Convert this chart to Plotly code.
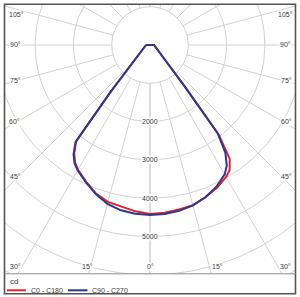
import numpy as np
import plotly.graph_objects as go

# ---------------- data (luminous intensity, cd) ----------------
gamma = [0, 5, 10, 15, 20, 25, 30, 32.5, 35, 37.5, 40, 45, 50, 60, 70, 80, 90]
c0   = [4420, 4395, 4360, 4330, 4230, 4120, 3975, 3870, 3630, 2950, 1400, 575, 370, 212, 153, 122, 104]
c180 = [4410, 4360, 4280, 4240, 4130, 3940, 3760, 3640, 3450, 3170, 1600, 620, 375, 212, 153, 122, 104]
c90  = [4440, 4430, 4396, 4335, 4230, 4090, 3900, 3731, 3430, 2900, 1400, 572, 370, 212, 153, 122, 104]
c270 = [4440, 4420, 4382, 4292, 4140, 3958, 3780, 3665, 3480, 3190, 1600, 620, 378, 214, 153, 122, 104]

radial_ticks = [2000, 3000, 4000, 5000]
grid_circles = [1000, 2000, 3000, 4000, 5000, 6000, 7000]
grid_angles = list(range(0, 181, 15))

# angle labels: text and pixel positions (left edge, bottom edge, right edge)
angle_text = ["105°", "90°", "75°", "60°", "45°", "30°", "15°", "0°", "15°", "30°",
              "45°", "60°", "75°", "90°", "105°"]
angle_px = [(16, 14), (15, 45), (15, 80), (14.5, 121), (15, 177), (15, 266.5), (87, 266.5),
            (150, 266.5), (217, 266.5), (285.5, 266.5), (286, 177), (286, 121), (286, 80),
            (285.5, 45), (285, 14)]

W, H = 300, 297
K = 0.0383          # pixels per cd
CX, CY = 150, 45    # pole position in pixels
BOX = (4, 4, 296, 273.5)  # plot box in pixels (left, top, right, bottom)

GRID = "#d2d2d2"
RED = "#e8202a"
BLUE = "#2b3990"
TXT = "#3a3a3a"
FONT = "Liberation Sans, Arial, sans-serif"


def curve_xy(left, right):
    g = np.radians(gamma)
    l = np.array(left, float)
    r = np.array(right, float)
    xl = -l * np.sin(g)
    yl = -l * np.cos(g)
    xr = r * np.sin(g)
    yr = -r * np.cos(g)
    x = np.concatenate([xl[::-1], xr[1:], xl[-1:]])
    y = np.concatenate([yl[::-1], yr[1:], yl[-1:]])
    return x, y


fig = go.Figure()

# grid circles
gx, gy = [], []
t = np.linspace(0, 2 * np.pi, 361)
for rc in grid_circles:
    gx += list(rc * np.cos(t)) + [None]
    gy += list(rc * np.sin(t)) + [None]
fig.add_trace(go.Scatter(x=gx, y=gy, mode="lines", line=dict(color=GRID, width=1),
                         hoverinfo="skip", showlegend=False))

# radial lines
rx, ry = [], []
for a in grid_angles:
    ar = np.radians(a)
    for s in (-1, 1):
        rx += [s * 1000 * np.sin(ar), s * 9000 * np.sin(ar), None]
        ry += [-1000 * np.cos(ar), -9000 * np.cos(ar), None]
fig.add_trace(go.Scatter(x=rx, y=ry, mode="lines", line=dict(color=GRID, width=1),
                         hoverinfo="skip", showlegend=False))

# curves
x1, y1 = curve_xy(c180, c0)
fig.add_trace(go.Scatter(x=x1, y=y1, mode="lines", name="C0 - C180",
                         line=dict(color=RED, width=2), showlegend=False))
x2, y2 = curve_xy(c270, c90)
fig.add_trace(go.Scatter(x=x2, y=y2, mode="lines", name="C90 - C270",
                         line=dict(color=BLUE, width=2), showlegend=False))

ann = []
for v in radial_ticks:
    ann.append(dict(x=0, y=-v, xref="x", yref="y", text=str(v), showarrow=False,
                    font=dict(size=7, color=TXT, family=FONT), bgcolor="white",
                    borderpad=0, xanchor="center", yanchor="middle"))
for txt, (px, py) in zip(angle_text, angle_px):
    ann.append(dict(x=px / W, y=1 - py / H, xref="paper", yref="paper", text=txt,
                    showarrow=False, font=dict(size=7, color=TXT, family=FONT),
                    bgcolor="white", borderpad=0, xanchor="center", yanchor="middle"))

# legend (manual)
ann.append(dict(x=8 / W, y=1 - 281.5 / H, xref="paper", yref="paper", text="cd",
                showarrow=False, font=dict(size=8, color=TXT, family=FONT),
                xanchor="left", yanchor="middle"))
ann.append(dict(x=28.5 / W, y=1 - 290.5 / H, xref="paper", yref="paper", text="C0 - C180",
                showarrow=False, font=dict(size=7, color=TXT, family=FONT),
                xanchor="left", yanchor="middle"))
ann.append(dict(x=89.5 / W, y=1 - 290.5 / H, xref="paper", yref="paper", text="C90 - C270",
                showarrow=False, font=dict(size=7, color=TXT, family=FONT),
                xanchor="left", yanchor="middle"))

shapes = [
    dict(type="rect", xref="paper", yref="paper", x0=4.5 / W, x1=295.5 / W,
         y0=1 - 293.8 / H, y1=1 - 4.2 / H, line=dict(color="#555555", width=1.6)),
    dict(type="line", xref="paper", yref="paper", x0=4.5 / W, x1=295.5 / W,
         y0=1 - 273.8 / H, y1=1 - 273.8 / H, line=dict(color="#8c8c8c", width=1)),
    dict(type="line", xref="paper", yref="paper", x0=7 / W, x1=26 / W,
         y0=1 - 290.3 / H, y1=1 - 290.3 / H, line=dict(color=RED, width=2)),
    dict(type="line", xref="paper", yref="paper", x0=68 / W, x1=87.5 / W,
         y0=1 - 290.3 / H, y1=1 - 290.3 / H, line=dict(color=BLUE, width=2)),
]

L, T, R, B = BOX
fig.update_layout(
    width=W, height=H, margin=dict(l=0, r=0, t=0, b=0),
    paper_bgcolor="white", plot_bgcolor="white",
    xaxis=dict(domain=[L / W, R / W], range=[(L - CX) / K, (R - CX) / K],
               showgrid=False, zeroline=False, showticklabels=False, ticks="",
               fixedrange=True),
    yaxis=dict(domain=[1 - B / H, 1 - T / H], range=[-(B - CY) / K, (CY - T) / K],
               showgrid=False, zeroline=False, showticklabels=False, ticks="",
               fixedrange=True),
    annotations=ann, shapes=shapes, showlegend=False,
)

fig.write_html("out.html")
